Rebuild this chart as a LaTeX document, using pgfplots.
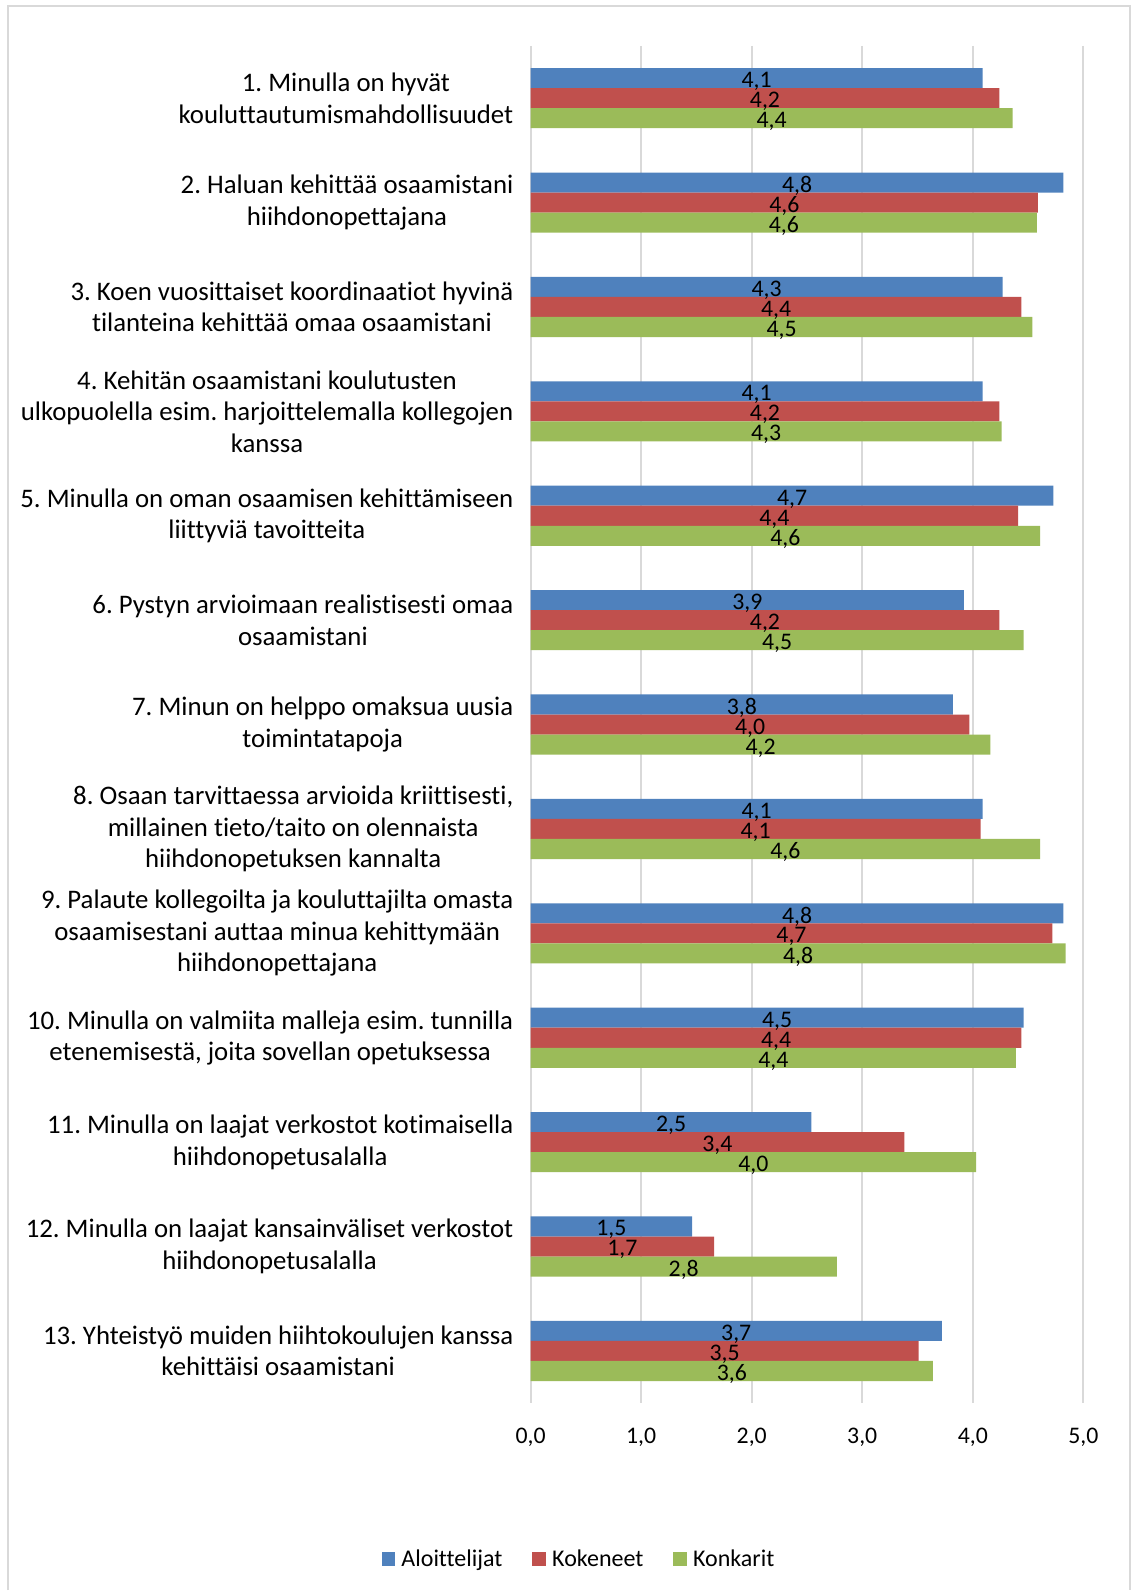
\documentclass[border=0pt]{standalone}
\usepackage{pgfplots}
\pgfplotsset{compat=1.18}
\usepackage{pgfplotstable}
\usepackage{fontspec}
\setmainfont{Carlito}[Ligatures=NoCommon]
\definecolor{serA}{HTML}{4F81BD}
\definecolor{serB}{HTML}{C0504D}
\definecolor{serC}{HTML}{9BBB59}
\definecolor{gridc}{HTML}{D9D9D9}
\definecolor{framec}{HTML}{D9D9D9}

\pgfplotstableread{
y a b c
0 4.09 4.24 4.36
1 4.82 4.59 4.58
2 4.27 4.44 4.54
3 4.09 4.24 4.26
4 4.73 4.41 4.61
5 3.92 4.24 4.46
6 3.82 3.97 4.16
7 4.09 4.07 4.61
8 4.82 4.72 4.84
9 4.46 4.44 4.39
10 2.54 3.38 4.03
11 1.46 1.66 2.77
12 3.72 3.51 3.64
}\datatable

\newcommand{\lblfont}{\fontsize{13.4}{15.75}\selectfont}
\newcommand{\numfont}{\fontsize{11.9}{14}\selectfont}
\newcommand{\legfont}{\fontsize{12}{14}\selectfont}
\frenchspacing

\begin{document}
\frenchspacing
\begin{tikzpicture}[x=1pt,y=1pt]
\path (0,0) rectangle (566,795.5);
\draw[framec, line width=1pt] (4,0) -- (4,792.5) -- (565.5,792.5) -- (565.5,0);
\begin{axis}[
  at={(265.5pt,93.5pt)}, anchor=south west,
  scale only axis, width=276.5pt, height=679pt,
  xmin=0, xmax=5, ymin=-0.5, ymax=12.5, y dir=reverse,
  axis line style={draw=none},
  tick style={draw=none},
  xmajorgrids, grid style={gridc, line width=0.9pt},
  xtick={0,1,2,3,4,5},
  xticklabel={\pgfmathprintnumber[fixed,fixed zerofill,precision=1,use comma,assume math mode=true]{\tick}},
  xticklabel style={font=\numfont, anchor=center, text depth=0pt, yshift=-16.5pt, inner sep=0pt},
  ytick={0,1,2,3,4,5,6,7,8,9,10,11,12},
  yticklabels={
    {1. Minulla on hyvät\\kouluttautumismahdollisuudet},
    {2. Haluan kehittää osaamistani\\hiihdonopettajana},
    {3. Koen vuosittaiset koordinaatiot hyvinä\\tilanteina kehittää omaa osaamistani},
    {4. Kehitän osaamistani koulutusten\\ulkopuolella esim. harjoittelemalla kollegojen\\kanssa},
    {5. Minulla on oman osaamisen kehittämiseen\\liittyviä tavoitteita},
    {6. Pystyn arvioimaan realistisesti omaa\\osaamistani},
    {7. Minun on helppo omaksua uusia\\toimintatapoja},
    {8. Osaan tarvittaessa arvioida kriittisesti,\\millainen tieto/taito on olennaista\\hiihdonopetuksen kannalta},
    {9. Palaute kollegoilta ja kouluttajilta omasta\\osaamisestani auttaa minua kehittymään\\hiihdonopettajana},
    {10. Minulla on valmiita malleja esim. tunnilla\\etenemisestä, joita sovellan opetuksessa},
    {11. Minulla on laajat verkostot kotimaisella\\hiihdonopetusalalla},
    {12. Minulla on laajat kansainväliset verkostot\\hiihdonopetusalalla},
    {13. Yhteistyö muiden hiihtokoulujen kanssa\\kehittäisi osaamistani}
  },
  yticklabel style={font=\lblfont, align=center, anchor=east, inner sep=0pt, xshift=-8.5pt},
  legend style={at={(axis description cs:0.088,-0.115)}, anchor=center, draw=none, fill=none,
    legend columns=-1, font=\legfont, inner sep=0pt, nodes={inner sep=1.4pt},
    /tikz/every odd column/.append style={column sep=1.6pt},
    /tikz/every even column/.append style={column sep=13.5pt}},
  legend image code/.code={\fill[#1] (0pt,-3.5pt) rectangle (7pt,3.5pt);},
  every node near coord/.append style={font=\numfont, anchor=center, text depth=0pt, inner sep=0pt, black, yshift=-0.9pt},
]
\addplot[xbar, bar width=0.192, bar shift=-0.192, fill=serA, draw=none] table[x=a, y=y]{\datatable};
\addlegendentry{Aloittelijat}
\addplot[xbar, bar width=0.192, bar shift=0, fill=serB, draw=none] table[x=b, y=y]{\datatable};
\addlegendentry{Kokeneet}
\addplot[xbar, bar width=0.192, bar shift=0.192, fill=serC, draw=none] table[x=c, y=y]{\datatable};
\addlegendentry{Konkarit}

\addplot[forget plot, only marks, mark=none, point meta=explicit,
  nodes near coords={\pgfmathprintnumber[fixed,fixed zerofill,precision=1,use comma,assume math mode=true]{\pgfplotspointmeta}}]
  table[x expr=\thisrow{a}/2, y expr=\thisrow{y}-0.192, meta=a]{\datatable};
\addplot[forget plot, only marks, mark=none, point meta=explicit,
  nodes near coords={\pgfmathprintnumber[fixed,fixed zerofill,precision=1,use comma,assume math mode=true]{\pgfplotspointmeta}}]
  table[x expr=\thisrow{b}/2, y=y, meta=b]{\datatable};
\addplot[forget plot, only marks, mark=none, point meta=explicit,
  nodes near coords={\pgfmathprintnumber[fixed,fixed zerofill,precision=1,use comma,assume math mode=true]{\pgfplotspointmeta}}]
  table[x expr=\thisrow{c}/2, y expr=\thisrow{y}+0.192, meta=c]{\datatable};
\end{axis}
\end{tikzpicture}
\end{document}
